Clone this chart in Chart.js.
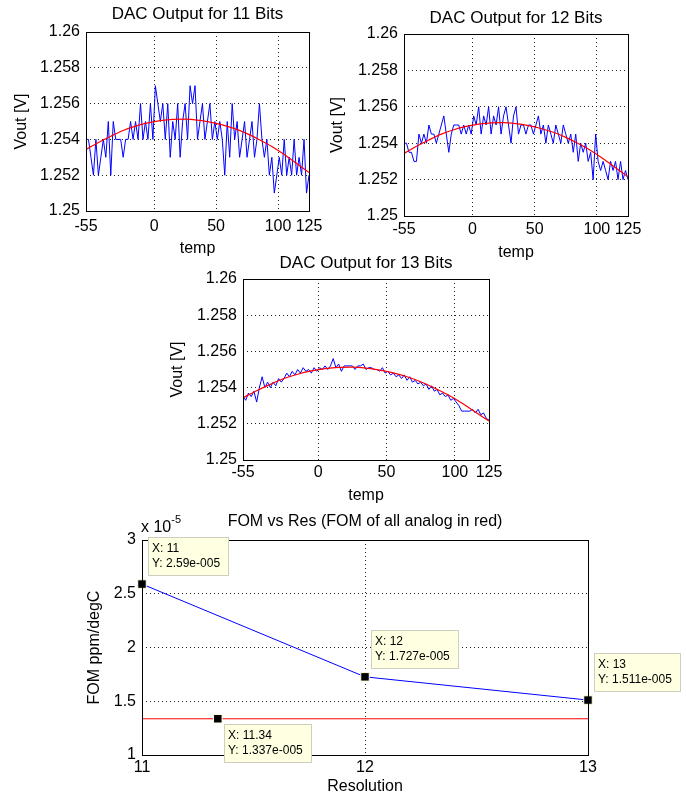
<!DOCTYPE html>
<html>
<head>
<meta charset="utf-8">
<script src="https://cdn.jsdelivr.net/npm/chart.js@4/dist/chart.umd.min.js"></script>
<style>
  body { margin: 0; background: #fff; width: 686px; height: 799px; overflow: hidden; position: relative; }
  canvas { position: absolute; }
</style>
</head>
<body>
<canvas id="dac11"></canvas>
<canvas id="dac12"></canvas>
<canvas id="dac13"></canvas>
<canvas id="fomRes"></canvas>
<script>
// temperature sweep (degC) used by all three DAC runs
const sweepTemps = [
  -55, -53, -51, -49, -47, -45, -43, -41, -39, -37,
  -35, -33, -31, -29, -27, -25, -23, -21, -19, -17,
  -15, -13, -11, -9, -7, -5, -3, -1, 1, 3,
  5, 7, 9, 11, 13, 15, 17, 19, 21, 23,
  25, 27, 29, 31, 33, 35, 37, 39, 41, 43,
  45, 47, 49, 51, 53, 55, 57, 59, 61, 63,
  65, 67, 69, 71, 73, 75, 77, 79, 81, 83,
  85, 87, 89, 91, 93, 95, 97, 99, 101, 103,
  105, 107, 109, 111, 113, 115, 117, 119, 121, 123,
  125
];

const vout11 = [
  1.254, 1.254, 1.253, 1.252, 1.254, 1.252, 1.253, 1.254, 1.253, 1.255,
  1.252, 1.255, 1.254, 1.254, 1.254, 1.253, 1.254, 1.254, 1.255, 1.254,
  1.255, 1.254, 1.256, 1.254, 1.255, 1.254, 1.256, 1.254, 1.257, 1.256,
  1.255, 1.256, 1.254, 1.256, 1.253, 1.255, 1.254, 1.256, 1.253, 1.255,
  1.256, 1.254, 1.257, 1.256, 1.257, 1.254, 1.255, 1.256, 1.254, 1.255,
  1.256, 1.254, 1.255, 1.254, 1.255, 1.254, 1.252, 1.255, 1.253, 1.256,
  1.254, 1.255, 1.253, 1.254, 1.255, 1.253, 1.254, 1.255, 1.253, 1.254,
  1.256, 1.254, 1.253, 1.254, 1.252, 1.253, 1.251, 1.252, 1.253, 1.252,
  1.254, 1.252, 1.253, 1.252, 1.254, 1.252, 1.253, 1.252, 1.254, 1.251,
  1.252
];

const vout12 = [
  1.2540, 1.2540, 1.2535, 1.2535, 1.2530, 1.2530, 1.2545, 1.2540, 1.2545, 1.2540,
  1.2550, 1.2545, 1.2545, 1.2540, 1.2545, 1.2550, 1.2555, 1.2545, 1.2535, 1.2545,
  1.2550, 1.2550, 1.2550, 1.2545, 1.2550, 1.2545, 1.2550, 1.2545, 1.2555, 1.2550,
  1.2560, 1.2545, 1.2555, 1.2550, 1.2560, 1.2545, 1.2555, 1.2550, 1.2560, 1.2545,
  1.2555, 1.2560, 1.2550, 1.2540, 1.2555, 1.2560, 1.2545, 1.2550, 1.2550, 1.2545,
  1.2550, 1.2550, 1.2545, 1.2550, 1.2555, 1.2545, 1.2550, 1.2540, 1.2550, 1.2545,
  1.2540, 1.2550, 1.2545, 1.2540, 1.2550, 1.2545, 1.2540, 1.2545, 1.2535, 1.2545,
  1.2530, 1.2540, 1.2535, 1.2540, 1.2530, 1.2535, 1.2520, 1.2545, 1.2530, 1.2525,
  1.2530, 1.2525, 1.2520, 1.2530, 1.2525, 1.2530, 1.2520, 1.2530, 1.2520, 1.2525,
  1.2520
];

const vout13 = [
  1.2535, 1.2533, 1.2537, 1.2535, 1.2538, 1.2532, 1.2540, 1.2546, 1.2540, 1.2543,
  1.2540, 1.2543, 1.2541, 1.2545, 1.2543, 1.2545, 1.2548, 1.2546, 1.2549, 1.2547,
  1.2550, 1.2548, 1.2551, 1.2549, 1.2550, 1.2548, 1.2551, 1.2549, 1.2551, 1.2550,
  1.2552, 1.2550, 1.2552, 1.2556, 1.2551, 1.2553, 1.2549, 1.2552, 1.2552, 1.2552,
  1.2552, 1.2550, 1.2552, 1.2552, 1.2553, 1.2550, 1.2551, 1.2551, 1.2550, 1.2550,
  1.2549, 1.2551, 1.2548, 1.2549, 1.2547, 1.2548, 1.2546, 1.2547, 1.2545, 1.2547,
  1.2544, 1.2546, 1.2543, 1.2544, 1.2542, 1.2543, 1.2541, 1.2542, 1.2539, 1.2541,
  1.2538, 1.2539, 1.2536, 1.2537, 1.2535, 1.2536, 1.2533, 1.2534, 1.2532, 1.2530,
  1.2527, 1.2527, 1.2527, 1.2527, 1.2528, 1.2526, 1.2528, 1.2525, 1.2526, 1.2523,
  1.2522
];

// analog reference curve (red)
const fitTemps = [-55, -45, -35, -25, -15, -5, 5, 15, 25, 35, 45, 55, 65, 75, 85, 95, 105, 115, 125];
const fitVout = [
  1.25344, 1.25383, 1.25418, 1.25450, 1.25474, 1.25492, 1.25505, 1.25512, 1.25513, 1.25508,
  1.25497, 1.25481, 1.25460, 1.25432, 1.25398, 1.25360, 1.25315, 1.25265, 1.25215
];

const tempTicks = [-55, 0, 50, 100, 125];
const voutTicks = [1.25, 1.252, 1.254, 1.256, 1.258, 1.26];

// figure of merit vs resolution
const resolutionBits = [11, 12, 13];
const fomDigital = [2.59e-5, 1.727e-5, 1.511e-5];
const fomAnalog = 1.337e-5;
const fomTicks = [1e-5, 1.5e-5, 2e-5, 2.5e-5, 3e-5];
const fomExponent = -5;
const tipX = [11, 12, 13, 11.34];
const tipY = [2.59e-5, 1.727e-5, 1.511e-5, 1.337e-5];
const tipAbove = [true, true, true, false];

const FONT = '"Liberation Sans", Arial, Helvetica, sans-serif';
Chart.defaults.font.family = FONT;
Chart.defaults.color = '#000';

// MATLAB style closed axes box
const axesBox = {
  id: 'axesBox',
  afterDatasetsDraw(chart) {
    const a = chart.chartArea;
    const ctx = chart.ctx;
    const l = Math.round(a.left) + 0.5, t = Math.round(a.top) + 0.5;
    const r = Math.round(a.right) + 0.5, b = Math.round(a.bottom) + 0.5;
    ctx.save();
    ctx.strokeStyle = '#000';
    ctx.lineWidth = 1;
    ctx.strokeRect(l, t, r - l, b - t);
    ctx.restore();
  }
};
Chart.register(axesBox);

function placeCanvas(canvas, f) {
  canvas.width = f.w;
  canvas.height = f.h;
  canvas.style.left = f.left + 'px';
  canvas.style.top = f.top + 'px';
}

function dottedGrid() {
  return { color: '#222', lineWidth: 1, drawTicks: false };
}

function dacChart(id, title, vout, f) {
  const canvas = document.getElementById(id);
  placeCanvas(canvas, f);
  return new Chart(canvas, {
    type: 'line',
    data: {
      datasets: [
        {
          label: 'analog',
          data: fitTemps.map((t, i) => ({ x: t, y: fitVout[i] })),
          borderColor: '#ff0000',
          borderWidth: 1.2,
          pointRadius: 0,
          cubicInterpolationMode: 'monotone'
        },
        {
          label: 'dac',
          data: sweepTemps.map((t, i) => ({ x: t, y: vout[i] })),
          borderColor: '#0000ff',
          borderWidth: 1,
          pointRadius: 0,
          tension: 0
        }
      ]
    },
    options: {
      responsive: false,
      animation: false,
      events: [],
      layout: { padding: { left: 0, right: f.padR, top: 0, bottom: 0 } },
      plugins: {
        legend: { display: false },
        tooltip: { enabled: false },
        title: {
          display: true,
          fullSize: false,
          text: title,
          font: { size: 17, weight: 'normal', lineHeight: 1.2 },
          padding: { top: f.titleTop, bottom: f.titleBottom }
        }
      },
      scales: {
        x: {
          type: 'linear',
          min: -55,
          max: 125,
          afterBuildTicks: s => { s.ticks = tempTicks.map(v => ({ value: v })); },
          afterFit: s => { s.height = f.xh; },
          ticks: { font: { size: 16 }, padding: f.xTickPad, autoSkip: false, maxRotation: 0, callback: v => String(v) },
          grid: dottedGrid(),
          border: { display: false, dash: [1, 3] },
          title: { display: true, text: 'temp', font: { size: 16, lineHeight: 1.2 }, padding: { top: 0, bottom: f.xTitlePad } }
        },
        y: {
          min: 1.25,
          max: 1.26,
          afterBuildTicks: s => { s.ticks = voutTicks.map(v => ({ value: v })); },
          afterFit: s => { s.width = f.yw; },
          ticks: { font: { size: 16 }, padding: 6, callback: v => String(parseFloat(v.toFixed(3))) },
          grid: dottedGrid(),
          border: { display: false, dash: [1, 3] },
          title: { display: true, text: 'Vout [V]', font: { size: 16, lineHeight: 1.2 }, padding: { top: f.yTitlePad, bottom: 0 } }
        }
      }
    }
  });
}

dacChart('dac11', 'DAC Output for 11 Bits', vout11,
  { left: 0, top: 0, w: 330, h: 262, yw: 86, padR: 21, titleTop: 3.8, titleBottom: 7.8, xh: 51, xTickPad: 6, xTitlePad: 3.4, yTitlePad: 12.4 });
dacChart('dac12', 'DAC Output for 12 Bits', vout12,
  { left: 326, top: 0, w: 360, h: 264, yw: 78, padR: 58, titleTop: 7.8, titleBottom: 5.8, xh: 48, xTickPad: 4.4, xTitlePad: 1.4, yTitlePad: 2.4 });
dacChart('dac13', 'DAC Output for 13 Bits', vout13,
  { left: 160, top: 250, w: 350, h: 256, yw: 83, padR: 21, titleTop: 2.8, titleBottom: 5.8, xh: 46, xTickPad: 3.4, xTitlePad: 0.4, yTitlePad: 8.4 });

// "Y: 2.59e-005" style number
function matlabExp(v) {
  const e = Math.floor(Math.log10(Math.abs(v)));
  const m = parseFloat((v / Math.pow(10, e)).toPrecision(4));
  return m + 'e' + (e < 0 ? '-' : '+') + String(Math.abs(e)).padStart(3, '0');
}

const fomDecor = {
  id: 'fomDecor',
  afterDraw(chart) {
    const ctx = chart.ctx;
    const a = chart.chartArea;
    const xs = chart.scales.x, ys = chart.scales.y;
    ctx.save();

    // axis multiplier
    ctx.fillStyle = '#000';
    ctx.textBaseline = 'alphabetic';
    ctx.textAlign = 'left';
    ctx.font = '16px ' + FONT;
    const base = 'x 10';
    ctx.fillText(base, a.left - 1, a.top - 8);
    const bw = ctx.measureText(base).width;
    ctx.font = '11px ' + FONT;
    ctx.fillText(String(fomExponent), a.left - 1 + bw, a.top - 17);

    // data tips
    ctx.font = '12px ' + FONT;
    ctx.textBaseline = 'middle';
    tipX.forEach((x, i) => {
      const px = xs.getPixelForValue(x);
      const py = ys.getPixelForValue(tipY[i]);
      const lines = ['X: ' + x, 'Y: ' + matlabExp(tipY[i])];
      const w = Math.round(Math.max(...lines.map(s => ctx.measureText(s).width)) + 12);
      const h = 38;
      const left = Math.round(px + 6);
      const top = Math.round(tipAbove[i] ? py - 9 - h : py + 5);
      ctx.fillStyle = '#ffffe1';
      ctx.fillRect(left, top, w, h);
      ctx.strokeStyle = '#cfcfbf';
      ctx.lineWidth = 1;
      ctx.strokeRect(left + 0.5, top + 0.5, w, h);
      ctx.fillStyle = '#000';
      ctx.fillText(lines[0], left + 4, top + 12);
      ctx.fillText(lines[1], left + 4, top + 27);
    });
    ctx.restore();
  }
};

(function () {
  const canvas = document.getElementById('fomRes');
  placeCanvas(canvas, { left: 60, top: 500, w: 626, h: 299 });
  new Chart(canvas, {
    type: 'line',
    data: {
      datasets: [
        {
          label: 'tips',
          data: tipX.map((x, i) => ({ x: x, y: tipY[i] })),
          showLine: false,
          pointStyle: 'rect',
          pointRadius: 6,
          pointBackgroundColor: '#000',
          pointBorderColor: '#ffffe1',
          pointBorderWidth: 1,
          clip: false
        },
        {
          label: 'digital',
          data: resolutionBits.map((r, i) => ({ x: r, y: fomDigital[i] })),
          borderColor: '#0000ff',
          borderWidth: 1,
          pointRadius: 0
        },
        {
          label: 'all analog',
          data: [resolutionBits[0], resolutionBits[resolutionBits.length - 1]].map(r => ({ x: r, y: fomAnalog })),
          borderColor: '#ff0000',
          borderWidth: 1,
          pointRadius: 0
        }
      ]
    },
    options: {
      responsive: false,
      animation: false,
      events: [],
      layout: { padding: { left: 0, right: 98, top: 0, bottom: 0 } },
      plugins: {
        legend: { display: false },
        tooltip: { enabled: false },
        title: {
          display: true,
          fullSize: false,
          text: 'FOM vs Res (FOM of all analog in red)',
          font: { size: 16, weight: 'normal', lineHeight: 1.2 },
          padding: { top: 12.4, bottom: 8.4 }
        }
      },
      scales: {
        x: {
          type: 'linear',
          min: 11,
          max: 13,
          afterBuildTicks: s => { s.ticks = resolutionBits.map(v => ({ value: v })); },
          afterFit: s => { s.height = 44; },
          ticks: { font: { size: 16 }, padding: 3.4, autoSkip: false, maxRotation: 0, callback: v => String(v) },
          grid: dottedGrid(),
          border: { display: false, dash: [1, 3] },
          title: { display: true, text: 'Resolution', font: { size: 16, lineHeight: 1.2 }, padding: { top: 0, bottom: 2.4 } }
        },
        y: {
          min: 1e-5,
          max: 3e-5,
          afterBuildTicks: s => { s.ticks = fomTicks.map(v => ({ value: v })); },
          afterFit: s => { s.width = 82; },
          ticks: { font: { size: 16 }, padding: 6, callback: v => String(parseFloat((v / Math.pow(10, fomExponent)).toFixed(2))) },
          grid: dottedGrid(),
          border: { display: false, dash: [1, 3] },
          title: { display: true, text: 'FOM ppm/degC', font: { size: 16, lineHeight: 1.2 }, padding: { top: 25.4, bottom: 0 } }
        }
      }
    },
    plugins: [fomDecor]
  });
})();
</script>
</body>
</html>
